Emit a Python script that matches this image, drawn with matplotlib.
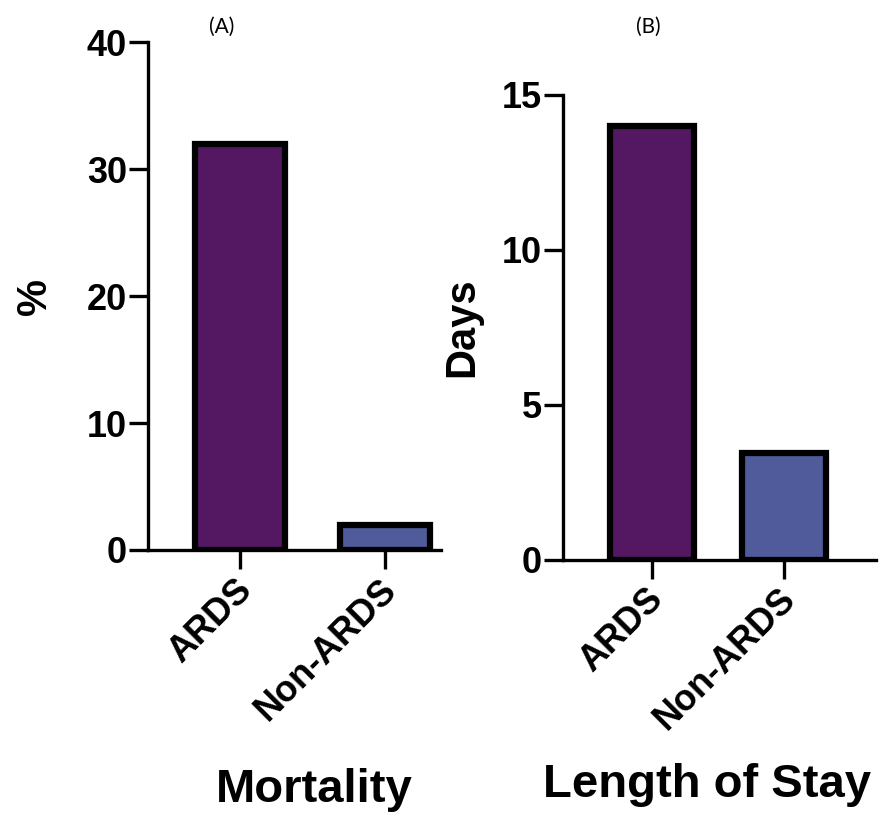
import matplotlib
matplotlib.use("Agg")
import matplotlib.pyplot as plt
from matplotlib.transforms import ScaledTranslation

categories = ["ARDS", "Non-ARDS"]
mortality = [32.0, 2.0]
length_of_stay = [14.0, 3.45]
colors = ["#541862", "#4F5B9A"]

plt.rcParams['font.family'] = ['Liberation Sans', 'DejaVu Sans']

fig = plt.figure(figsize=(8.81, 8.16), dpi=100)

def style(ax, ylim, yticks, ylabel):
    ax.set_ylim(*ylim)
    ax.set_yticks(yticks)
    for s in ["top", "right"]:
        ax.spines[s].set_visible(False)
    for s in ["left", "bottom"]:
        ax.spines[s].set_linewidth(2.4)
    ax.tick_params(axis="both", length=14, width=2.4, labelsize=26)
    ax.tick_params(axis="y", pad=1)
    ax.tick_params(axis="x", pad=2)
    for lab in ax.get_yticklabels():
        lab.set_fontweight("bold")
    ax.set_xticks(range(len(categories)))
    ax.set_xticklabels(categories, rotation=45, ha="right", rotation_mode="anchor",
                       fontweight="bold", fontsize=26)
    off = ScaledTranslation(-6 / 100, 0, fig.dpi_scale_trans)
    for lab in ax.get_xticklabels():
        lab.set_transform(lab.get_transform() + off)
    ax.set_ylabel(ylabel, fontsize=30, fontweight="bold")

axA = fig.add_axes([0.168, 0.326, 0.332, 0.622])
axA.bar(range(len(categories)), mortality, width=0.62, color=colors,
        edgecolor="black", linewidth=4.5, zorder=3)
axA.set_xlim(-0.636, 1.384)
style(axA, (0, 40), [0, 10, 20, 30, 40], "%")
axA.yaxis.labelpad = 23

axB = fig.add_axes([0.639, 0.314, 0.355, 0.570])
axB.bar(range(len(categories)), length_of_stay, width=0.64, color=colors,
        edgecolor="black", linewidth=4.5, zorder=3)
axB.set_xlim(-0.673, 1.697)
style(axB, (0, 15), [0, 5, 10, 15], "Days")
axB.yaxis.labelpad = 14

fig.text(314 / 881, 1 - 790 / 816, "Mortality", fontsize=34, fontweight="bold",
         ha="center", va="center")
fig.text(707 / 881, 1 - 785 / 816, "Length of Stay", fontsize=34, fontweight="bold",
         ha="center", va="center")

fig.text(222 / 881, 1 - 27 / 816, "(A)", fontsize=15, family=["Lato", "DejaVu Sans"],
         ha="center", va="center")
fig.text(648 / 881, 1 - 27 / 816, "(B)", fontsize=15, family=["Lato", "DejaVu Sans"],
         ha="center", va="center")

fig.savefig("out.png", dpi=100)
